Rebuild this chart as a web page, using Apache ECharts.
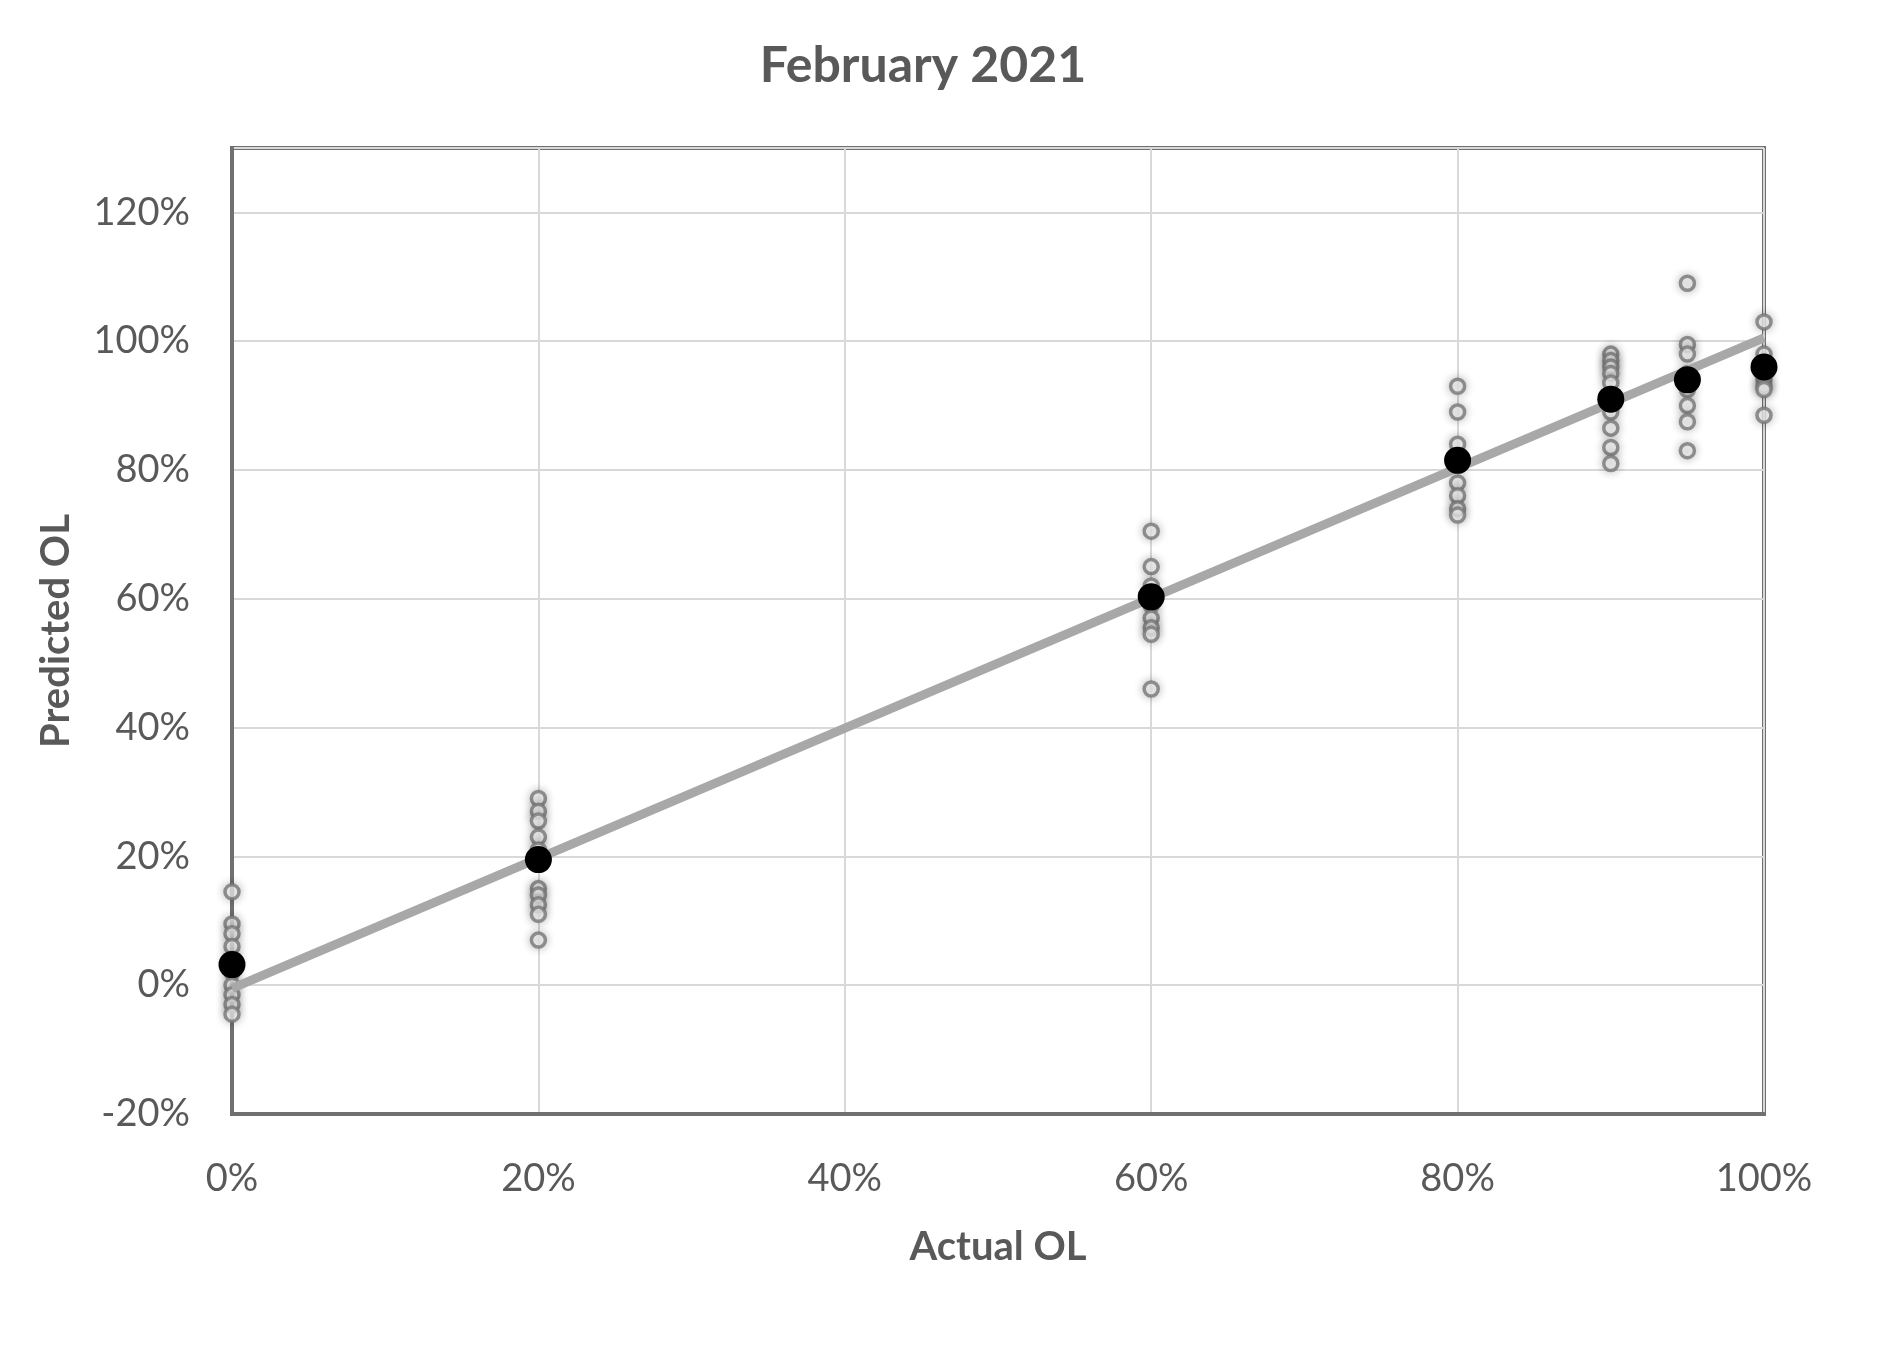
<!DOCTYPE html>
<html>
<head>
<meta charset="utf-8">
<script src="https://cdn.jsdelivr.net/npm/echarts@6/dist/echarts.min.js"></script>
<style>html,body{margin:0;padding:0;background:#fff}#c{width:1882px;height:1359px}</style>
</head>
<body>
<div id="c"></div>
<script>
// Actual OL categories (x) and individual predictions (y), in %
const actual = [0, 20, 60, 80, 90, 95, 100];
const pred0 = [14.5, 9.5, 8, 6, 4, 2, 0, -1.5, -3, -4.5];
const pred20 = [29, 27, 25.5, 23, 21, 15, 14, 12.5, 11, 7];
const pred60 = [70.5, 65, 62, 59, 57, 55.5, 54.5, 46];
const pred80 = [93, 89, 84, 81, 78, 76, 74, 73];
const pred90 = [98, 97, 96, 95, 93.5, 91, 89, 86.5, 83.5, 81];
const pred95 = [109, 99.5, 98, 95, 92.5, 90, 87.5, 83];
const pred100 = [103, 98, 96, 94, 93, 92.5, 88.5];
// Mean predicted per actual level
const meanPred = [3.2, 19.5, 60.3, 81.5, 91, 94, 96];
// Trend line endpoints
const trendX = [0, 100];
const trendY = [-0.5, 100.5];
const xTicks = [0, 20, 40, 60, 80, 100];
const yTicks = [-20, 0, 20, 40, 60, 80, 100, 120];

const groups = [pred0, pred20, pred60, pred80, pred90, pred95, pred100];
const pointData = [];
groups.forEach((g, i) => g.forEach(v => pointData.push([actual[i], v])));
const meanData = actual.map((x, i) => [x, meanPred[i]]);
const trendData = trendX.map((x, i) => [x, trendY[i]]);

const textColor = '#595959';
const frame = '#707070';
const font = 'Lato, "Liberation Sans", sans-serif';
const chart = echarts.init(document.getElementById('c'), null, {renderer: 'canvas'});
chart.setOption({
  backgroundColor: '#ffffff',
  animation: false,
  title: {
    text: 'February 2021',
    left: 918, top: 36, textAlign: 'center',
    textStyle: {fontFamily: font, fontSize: 50, fontWeight: 'bold', color: textColor}
  },
  grid: {
    left: 232, right: 118, top: 148, bottom: 245,
    show: true, borderColor: frame, borderWidth: 4, backgroundColor: '#fff'
  },
  xAxis: {
    type: 'value', min: 0, max: 100, interval: 20,
    name: 'Actual OL', nameLocation: 'middle', nameGap: 113,
    nameTextStyle: {fontFamily: font, fontSize: 40, fontWeight: 'bold', color: textColor},
    axisLine: {show: true, onZero: false, lineStyle: {color: frame, width: 4}},
    axisTick: {show: false},
    axisLabel: {
      margin: 46, fontFamily: font, fontSize: 38, color: textColor,
      formatter: v => xTicks.includes(v) ? v + '%' : ''
    },
    splitLine: {show: true, lineStyle: {color: '#d9d9d9', width: 2}}
  },
  yAxis: {
    type: 'value', min: -20, max: 130, interval: 20,
    name: 'Predicted OL', nameLocation: 'middle', nameGap: 156, nameRotate: 90,
    nameTextStyle: {fontFamily: font, fontSize: 40, fontWeight: 'bold', color: textColor},
    axisLine: {show: true, onZero: false, lineStyle: {color: frame, width: 4}},
    axisTick: {show: false},
    axisLabel: {
      margin: 42, fontFamily: font, fontSize: 38, color: textColor,
      formatter: v => yTicks.includes(v) ? v + '%' : ''
    },
    splitLine: {show: true, lineStyle: {color: '#d9d9d9', width: 2}}
  },
  series: [
    {
      type: 'scatter', data: pointData, symbol: 'circle', symbolSize: 14, z: 2,
      itemStyle: {color: '#ffffff', borderColor: '#777777', borderWidth: 3.5,
        shadowBlur: 10, shadowColor: 'rgba(0,0,0,0.3)'}
    },
    {
      type: 'line', data: trendData, symbol: 'none', z: 3,
      lineStyle: {color: '#a8a8a8', width: 9}
    },
    {
      type: 'scatter', data: meanData, symbol: 'circle', symbolSize: 27, z: 4,
      itemStyle: {color: '#000000', opacity: 1}
    }
  ]
});
</script>
</body>
</html>
